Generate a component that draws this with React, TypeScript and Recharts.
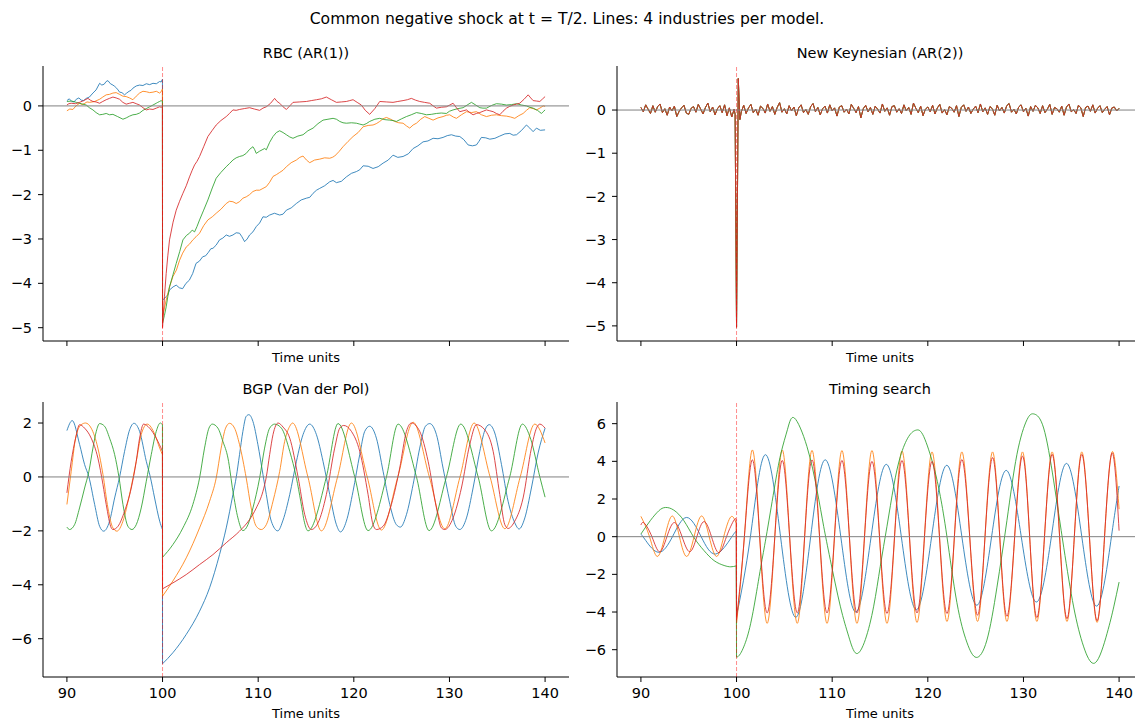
import { LineChart, Line, XAxis, YAxis, ReferenceLine } from 'recharts'

type Pair = [number, number]
type Pt = { t: number; v: number }

const X_TICKS = [90, 100, 110, 120, 130, 140]
const X_DOMAIN: [number, number] = [87.5, 142.5]
const BLUE = '#1f77b4'
const ORANGE = '#ff7f0e'
const GREEN = '#2ca02c'
const RED = '#d62728'
const FONT = '"DejaVu Sans", Verdana, sans-serif'

// ---- RBC (AR(1)) : [time, value]  (trend readings first, finer wiggles after; sorted at use)
const rbcBlue: Pair[] = [
  [90, 0.12], [90.5, 0.1], [90.98, 0.15], [91.5, 0.13], [92.02, 0.17], [92.72, 0.29], [93.42, 0.51], [93.9, 0.49],
  [94.29, 0.57], [94.81, 0.47], [95.2, 0.4], [95.51, 0.31], [96.03, 0.25], [96.5, 0.33], [96.9, 0.4], [97.6, 0.47],
  [98.3, 0.5], [99.0, 0.51], [99.69, 0.55], [99.99, 0.6],
  [100, -4.38], [100.38, -4.3], [100.73, -4.15], [101.43, -4.04], [102.1, -4.12], [102.8, -3.93], [103.5, -3.55],
  [104.2, -3.4], [104.8, -3.3], [105.27, -3.21], [105.96, -3.02], [106.66, -2.91], [107.36, -2.91], [108.05, -2.87],
  [108.58, -3.06], [109.1, -2.91], [109.8, -2.72], [110.5, -2.5], [111.2, -2.46], [112.25, -2.46], [112.95, -2.35],
  [113.99, -2.2], [115.04, -2.08], [115.74, -1.97], [116.43, -1.86], [117.48, -1.71], [118.18, -1.73], [119.22, -1.6],
  [120.27, -1.48], [120.97, -1.35], [122.01, -1.41], [123.06, -1.29], [124.1, -1.11], [125.15, -1.14], [126.2, -0.96],
  [127.24, -0.81], [128.29, -0.73], [129.33, -0.71], [130.21, -0.65], [131.08, -0.69], [131.95, -0.88], [132.82, -0.88],
  [133.34, -0.71], [134.22, -0.75], [135.26, -0.68], [136.31, -0.62], [137.01, -0.65], [138.05, -0.43], [138.75, -0.58],
  [139.1, -0.5], [140, -0.54],
  [90.25, 0.16], [90.75, 0.09], [91.25, 0.18], [91.75, 0.12], [92.35, 0.2], [93.05, 0.36], [93.65, 0.47], [94.1, 0.55],
  [94.55, 0.5], [95.0, 0.44], [95.35, 0.36], [95.75, 0.3], [96.25, 0.29], [96.7, 0.35], [97.25, 0.45], [97.95, 0.46],
  [98.65, 0.48], [99.35, 0.5], [99.85, 0.54],
  [100.55, -4.26], [101.1, -4.08], [101.75, -4.1], [102.45, -4.0], [103.15, -3.78], [103.85, -3.5], [104.5, -3.38],
  [105.05, -3.22], [105.6, -3.14], [106.3, -2.98], [107.0, -2.94], [107.7, -2.86], [108.3, -2.95], [108.85, -3.0],
  [109.45, -2.84], [110.15, -2.64], [110.85, -2.51], [111.7, -2.42], [112.6, -2.44], [113.45, -2.3], [114.5, -2.12],
  [115.4, -2.06], [116.1, -1.9], [116.95, -1.8], [117.83, -1.68], [118.7, -1.7], [119.75, -1.52], [120.62, -1.44],
  [121.5, -1.36], [122.55, -1.37], [123.6, -1.22], [124.6, -1.16], [125.7, -1.08], [126.7, -0.9], [127.75, -0.79],
  [128.8, -0.74], [129.77, -0.67], [130.65, -0.68], [131.5, -0.76], [132.4, -0.9], [133.08, -0.8], [133.8, -0.72],
  [134.75, -0.73], [135.8, -0.63], [136.66, -0.66], [137.5, -0.56], [138.4, -0.5], [139.5, -0.55],
]
const rbcOrange: Pair[] = [
  [90, -0.11], [90.63, -0.08], [91.32, 0.06], [91.8, 0.05], [92.37, 0.08], [93.42, 0.15], [94.11, 0.25], [94.81, 0.29],
  [95.51, 0.26], [96.2, 0.21], [96.9, 0.14], [97.6, 0.29], [98.3, 0.32], [99.0, 0.31], [99.69, 0.29], [99.99, 0.38],
  [100, -4.75], [100.38, -4.38], [101.08, -3.85], [101.78, -3.48], [102.48, -3.18], [103.17, -3.02], [103.87, -2.87],
  [104.74, -2.57], [105.61, -2.42], [106.66, -2.2], [107.36, -2.16], [108.05, -2.16], [108.75, -2.05], [109.45, -1.93],
  [110.15, -1.9], [110.85, -1.82], [111.55, -1.59], [112.25, -1.5], [112.95, -1.37], [113.99, -1.22], [114.69, -1.13],
  [115.39, -1.28], [116.43, -1.2], [117.48, -1.18], [118.0, -1.13], [118.87, -0.92], [119.92, -0.69], [120.97, -0.47],
  [122.01, -0.43], [122.71, -0.35], [123.41, -0.26], [124.28, -0.35], [125.15, -0.39], [125.85, -0.5], [126.55, -0.39],
  [127.42, -0.24], [128.29, -0.32], [129.33, -0.24], [130.03, -0.2], [130.73, -0.28], [131.78, -0.13], [132.82, -0.13],
  [133.87, -0.24], [134.91, -0.2], [135.96, -0.23], [136.83, -0.28], [137.7, -0.17], [138.4, -0.04], [139.1, -0.09],
  [139.8, 0.0], [140, -0.01],
  [90.3, -0.07], [90.95, 0.0], [91.6, 0.03], [92.1, 0.09], [92.9, 0.1], [93.75, 0.2], [94.45, 0.26], [95.15, 0.3],
  [95.85, 0.22], [96.55, 0.18], [97.25, 0.22], [97.95, 0.33], [98.65, 0.3], [99.35, 0.33], [99.85, 0.32],
  [100.2, -4.55], [100.7, -4.1], [101.45, -3.7], [102.1, -3.32], [102.8, -3.12], [103.5, -2.95], [104.3, -2.7],
  [105.2, -2.5], [106.1, -2.33], [107.0, -2.15], [107.7, -2.2], [108.4, -2.08], [109.1, -2.0], [109.8, -1.9],
  [110.5, -1.86], [111.2, -1.72], [111.9, -1.55], [112.6, -1.45], [113.45, -1.28], [114.35, -1.16], [115.05, -1.22],
  [115.9, -1.22], [116.95, -1.17], [117.75, -1.16], [118.45, -1.03], [119.4, -0.8], [120.45, -0.6], [121.5, -0.44],
  [122.35, -0.4], [123.05, -0.29], [123.85, -0.3], [124.7, -0.38], [125.5, -0.45], [126.2, -0.43], [127.0, -0.3],
  [127.85, -0.28], [128.8, -0.27], [129.7, -0.21], [130.4, -0.25], [131.25, -0.2], [132.3, -0.15], [133.35, -0.2],
  [134.4, -0.21], [135.45, -0.22], [136.4, -0.25], [137.25, -0.22], [138.05, -0.1], [138.75, -0.06], [139.45, -0.05],
]
const rbcGreen: Pair[] = [
  [90, 0.1], [90.98, 0.08], [92.02, 0.02], [92.72, -0.09], [93.42, -0.2], [94.11, -0.17], [94.81, -0.19], [95.86, -0.3],
  [96.55, -0.23], [97.25, -0.19], [97.95, -0.1], [98.65, -0.02], [99.34, 0.06], [99.69, 0.1], [99.99, 0.1],
  [100, -4.9], [100.38, -4.53], [100.73, -4.08], [101.43, -3.55], [102.13, -3.02], [102.82, -2.87], [103.35, -2.84],
  [103.87, -2.57], [104.74, -2.12], [105.61, -1.63], [106.66, -1.37], [107.36, -1.22], [108.05, -1.14], [108.75, -1.07],
  [109.45, -0.92], [109.8, -1.07], [110.5, -0.98], [110.85, -0.99], [111.55, -0.69], [112.25, -0.56], [112.95, -0.65],
  [113.64, -0.73], [114.69, -0.65], [115.74, -0.5], [116.78, -0.32], [117.83, -0.28], [118.53, -0.35], [119.22, -0.39],
  [120.27, -0.39], [120.97, -0.43], [121.66, -0.35], [122.71, -0.28], [123.76, -0.32], [124.45, -0.35], [125.5, -0.24],
  [126.55, -0.15], [127.59, -0.2], [128.64, -0.17], [129.68, -0.17], [130.38, -0.09], [131.43, -0.04], [132.3, 0.08],
  [133.17, -0.04], [133.87, -0.05], [134.91, 0.05], [135.96, 0.02], [137.01, 0.05], [138.05, 0.0], [138.75, -0.05],
  [139.62, -0.17], [140, -0.09],
  [90.5, 0.11], [91.5, 0.05], [92.35, -0.04], [93.05, -0.15], [93.75, -0.19], [94.45, -0.2], [95.3, -0.24], [96.2, -0.27],
  [96.9, -0.2], [97.6, -0.16], [98.3, -0.06], [99.0, 0.02], [99.5, 0.08], [99.85, 0.12],
  [100.2, -4.72], [100.55, -4.3], [101.1, -3.8], [101.8, -3.28], [102.5, -2.92], [103.1, -2.8], [103.6, -2.72],
  [104.3, -2.35], [105.2, -1.85], [106.1, -1.5], [107.0, -1.3], [107.7, -1.17], [108.4, -1.12], [109.1, -0.98],
  [109.62, -0.98], [110.15, -1.02], [110.68, -0.96], [111.2, -0.82], [111.9, -0.6], [112.6, -0.6], [113.3, -0.7],
  [114.15, -0.68], [115.2, -0.56], [116.25, -0.4], [117.3, -0.3], [118.18, -0.3], [118.87, -0.38], [119.75, -0.38],
  [120.62, -0.41], [121.3, -0.4], [122.2, -0.3], [123.25, -0.31], [124.1, -0.33], [125.0, -0.29], [126.0, -0.2],
  [127.05, -0.17], [128.1, -0.19], [129.15, -0.16], [130.0, -0.12], [130.9, -0.06], [131.85, 0.02], [132.75, 0.02],
  [133.5, -0.05], [134.4, 0.01], [135.45, 0.04], [136.5, 0.03], [137.55, 0.02], [138.4, -0.03], [139.2, -0.1],
  [139.8, -0.13],
]
const rbcRed: Pair[] = [
  [90, 0.02], [90.45, 0.06], [91.32, 0.08], [92.2, 0.17], [92.72, 0.1], [93.42, 0.06], [94.11, 0.14], [94.81, 0.2],
  [95.51, 0.15], [96.2, 0.04], [96.9, 0.08], [97.6, 0.02], [98.3, -0.09], [99.0, -0.08], [99.69, -0.02], [99.99, -0.02],
  [100, -5.0], [100.38, -3.78], [100.73, -3.02], [101.43, -2.35], [102.13, -1.97], [102.82, -1.6], [103.35, -1.33],
  [103.87, -1.14], [104.74, -0.69], [105.61, -0.43], [106.66, -0.24], [107.36, -0.09], [108.05, -0.08], [109.1, -0.04],
  [110.15, -0.1], [110.85, -0.02], [111.72, 0.17], [112.25, 0.06], [112.95, -0.08], [113.64, 0.08], [115.04, 0.1],
  [116.1, 0.14], [117.13, 0.2], [118.18, 0.08], [119.22, 0.1], [119.92, 0.14], [120.79, 0.02], [121.66, -0.19],
  [122.71, 0.1], [124.1, 0.08], [125.15, 0.12], [126.02, 0.17], [126.89, 0.1], [127.94, 0.06], [128.64, -0.05],
  [129.68, -0.02], [130.38, 0.06], [131.08, -0.13], [131.78, -0.09], [132.47, -0.2], [133.17, -0.15], [133.87, -0.09],
  [134.57, -0.13], [135.26, -0.2], [135.96, -0.05], [136.66, 0.02], [137.35, 0.06], [138.23, 0.25], [138.75, 0.12],
  [139.45, 0.1], [140, 0.21],
  [90.2, 0.05], [90.9, 0.05], [91.75, 0.12], [92.45, 0.13], [93.05, 0.09], [93.75, 0.1], [94.45, 0.17], [95.15, 0.18],
  [95.85, 0.08], [96.55, 0.06], [97.25, 0.05], [97.95, -0.04], [98.65, -0.07], [99.35, -0.05], [99.85, -0.03],
  [100.2, -4.3], [100.55, -3.38], [101.1, -2.62], [101.78, -2.15], [102.48, -1.8], [103.1, -1.45], [103.6, -1.25],
  [104.3, -0.92], [105.2, -0.55], [106.1, -0.33], [107.0, -0.17], [107.7, -0.1], [108.55, -0.06], [109.6, -0.07],
  [110.5, -0.05], [111.3, 0.06], [111.98, 0.1], [112.6, -0.02], [113.3, 0.0], [114.35, 0.09], [115.55, 0.12],
  [116.6, 0.16], [117.65, 0.14], [118.7, 0.09], [119.57, 0.12], [120.35, 0.08], [121.2, -0.1], [122.2, -0.06],
  [123.4, 0.09], [124.6, 0.1], [125.6, 0.14], [126.45, 0.13], [127.4, 0.08], [128.3, 0.0], [129.15, -0.03],
  [130.03, 0.02], [130.73, -0.04], [131.43, -0.11], [132.12, -0.15], [132.82, -0.17], [133.52, -0.12], [134.22, -0.11],
  [134.9, -0.17], [135.6, -0.12], [136.3, -0.01], [137.0, 0.04], [137.8, 0.15], [138.5, 0.18], [139.1, 0.11],
  [139.75, 0.16],
]

// ---- New Keynesian (AR(2)) : the four industries lie on top of each other
const NK_STEP = 0.25
const NK_SHOCK_T = [99.85, 100, 100.18, 100.35]
const nkPre = [
  0.06, -0.04, 0.12, 0.02, -0.08, 0.1, -0.05, 0.08, 0.14, -0.06,
  0.03, -0.12, 0.07, -0.02, 0.09, -0.15, -0.03, 0.05, 0.11, -0.07,
  -0.1, 0.04, 0.08, -0.05, 0.13, 0.02, -0.09, 0.06, 0.16, -0.04,
  0.07, -0.11, 0.03, 0.1, -0.06, 0.12, -0.13, 0.05, -0.16, 0.02,
]
const nkShock = [-0.1, -5.03, 0.73, -0.22]
const nkPost = [
  -0.04, 0.11, -0.08, 0.05, 0.13, -0.06, 0.02, -0.12, 0.09, 0.04,
  -0.07, 0.14, -0.03, 0.08, -0.1, 0.06, 0.17, -0.05, 0.03, -0.09,
  0.1, -0.02, 0.07, -0.13, 0.05, 0.12, -0.06, 0.01, -0.1, 0.08,
  0.15, -0.04, 0.06, -0.11, 0.03, 0.09, -0.07, 0.12, -0.02, 0.05,
  -0.14, 0.07, 0.1, -0.05, 0.02, -0.09, 0.13, 0.04, -0.06, 0.08,
  -0.18, 0.03, 0.11, -0.04, 0.06, -0.1, 0.09, 0.02, -0.07, 0.14,
  -0.03, 0.05, -0.12, 0.08, 0.1, -0.05, 0.03, -0.08, 0.12, -0.02,
  0.06, -0.1, 0.16, 0.04, -0.06, 0.09, -0.13, 0.02, 0.07, -0.04,
  0.11, -0.09, 0.05, 0.13, -0.07, 0.01, -0.11, 0.08, 0.04, -0.05,
  0.1, -0.15, 0.06, 0.12, -0.03, 0.07, -0.08, 0.02, 0.09, -0.06,
  0.14, -0.04, 0.05, -0.1, 0.08, 0.03, -0.12, 0.11, -0.02, 0.06,
  -0.07, 0.1, 0.15, -0.05, 0.02, -0.09, 0.07, 0.12, -0.04, 0.04,
  -0.14, 0.08, -0.03, 0.11, 0.05, -0.08, 0.1, -0.06, 0.02, 0.13,
  -0.1, 0.06, 0.03, -0.05, 0.09, -0.12, 0.07, 0.14, -0.04, 0.01,
  -0.08, 0.11, 0.05, -0.15, 0.06, 0.09, -0.03, 0.12, -0.07, 0.04,
  0.1, -0.06, 0.02, 0.08, -0.11, 0.05, 0.07, -0.02, 0.04,
]

// ---- BGP (Van der Pol)
const vdpBlue: Pair[] = [
  [90, 1.72], [90.56, 2.09], [91.33, 1.2], [91.85, 0.46], [92.3, 0.0], [92.9, -1.02], [93.42, -1.83], [93.84, -2.01],
  [94.46, -1.64], [94.99, -0.78], [95.51, 0.0], [96.03, 0.95], [96.56, 1.75], [97.01, 1.99], [97.6, 1.69], [98.3, 0.58],
  [98.72, 0.0], [99.17, -0.78], [99.7, -1.64], [99.99, -1.95],
  [100, -6.93], [101.08, -6.52], [102.48, -5.84], [103.87, -4.98], [104.92, -4.11], [105.96, -2.88], [106.66, -1.89],
  [107.36, -0.65], [107.71, 0.0], [108.05, 0.83], [108.4, 1.69], [108.75, 2.25], [109.03, 2.31], [109.45, 2.06],
  [109.97, 1.2], [110.5, 0.09], [110.85, -0.65], [111.37, -1.64], [112.05, -2.0], [112.6, -1.6], [113.3, -0.65],
  [114.0, 0.58], [114.69, 1.57], [115.39, 1.96], [116.09, 1.57], [116.78, 0.58], [117.48, -0.65], [118.18, -1.77],
  [118.6, -2.04], [119.22, -1.64], [119.92, -0.53], [120.62, 0.83], [121.14, 1.69], [121.66, 1.88], [122.36, 1.44],
  [123.06, 0.21], [123.76, -1.02], [124.45, -1.77], [124.87, -1.86], [125.5, -1.4], [126.2, -0.28], [126.89, 1.07],
  [127.49, 1.88], [127.94, 1.98], [128.64, 1.57], [129.33, 0.33], [130.03, -0.9], [130.66, -1.83], [131.08, -1.95],
  [131.78, -1.52], [132.47, -0.41], [133.17, 0.95], [133.69, 1.72], [134.15, 1.94], [134.74, 1.63], [135.44, 0.46],
  [136.13, -0.9], [136.83, -1.7], [137.28, -1.93], [137.88, -1.52], [138.57, -0.41], [139.27, 0.89], [140, 1.81],
]
const vdpOrange: Pair[] = [
  [90, -1.02], [90.45, 0.21], [90.91, 1.44], [91.5, 1.94], [91.95, 2.0], [92.54, 1.81], [93.24, 1.07], [93.77, 0.09],
  [94.29, -1.15], [94.81, -1.89], [95.23, -2.01], [95.86, -1.64], [96.55, -0.65], [97.25, 0.58], [97.77, 1.57],
  [98.4, 1.96], [99.2, 1.57], [99.7, 1.07], [99.99, 0.83],
  [100, -4.42], [101.08, -3.86], [102.48, -3.0], [103.87, -1.89], [104.92, -0.9], [105.61, -0.04], [106.13, 1.07],
  [106.59, 1.81], [107.01, 1.99], [107.53, 1.81], [108.05, 1.2], [108.75, -0.04], [109.27, -1.15], [109.8, -1.83],
  [110.32, -1.95], [110.85, -1.77], [111.55, -0.9], [112.25, 0.21], [112.77, 1.32], [113.3, 1.88], [113.6, 2.0],
  [115.2, 0.0], [116.61, -2.0], [118.3, 0.0], [119.75, 2.0], [121.4, 0.0], [122.88, -1.97], [124.6, 0.0], [126.2, 2.03],
  [127.9, 0.0], [129.51, -1.92], [131.1, 0.0], [132.58, 2.0], [134.25, 0.0], [135.79, -1.92], [137.4, 0.0],
  [138.92, 1.96], [140, 1.26],
]
const vdpGreen: Pair[] = [
  [90, -1.86], [90.28, -1.95], [90.8, -1.77], [91.32, -1.15], [91.85, -0.41], [92.3, 0.21], [92.72, 1.07], [93.07, 1.69],
  [93.42, 1.98], [93.94, 1.88], [94.46, 1.44], [94.99, 0.83], [95.44, 0.0], [95.86, -1.02], [96.38, -1.83], [96.8, -1.95],
  [97.25, -1.77], [97.77, -1.15], [98.3, -0.16], [98.82, 0.83], [99.34, 1.69], [99.76, 2.0], [99.99, 1.94],
  [100, -2.98], [101.08, -2.51], [102.13, -1.89], [103.17, -1.02], [103.87, -0.04], [104.39, 1.07], [104.85, 1.81],
  [105.2, 1.96], [105.79, 1.81], [106.31, 1.32], [106.84, 0.7], [107.36, -0.53], [107.88, -1.52], [108.4, -1.99],
  [108.93, -1.77], [109.45, -1.15], [110.15, -0.04], [110.67, 1.07], [111.2, 1.81], [111.72, 1.96], [112.43, 1.81],
  [113.3, 0.95], [114.0, -0.04], [114.45, -0.9], [114.85, -1.7], [115.21, -2.0], [117.13, 0.0], [118.35, 1.98],
  [120.1, 0.0], [121.49, -1.99], [123.41, 0.0], [124.63, 1.96], [126.55, 0.0], [127.87, -1.99], [129.68, 0.0],
  [131.18, 1.96], [133.0, 0.0], [134.39, -2.0], [136.3, 0.0], [137.63, 1.96], [138.5, 1.4], [139.45, 0.0], [140, -0.75],
]
const vdpRed: Pair[] = [
  [90, -0.59], [90.45, 0.58], [90.91, 1.44], [91.33, 1.94], [91.85, 1.81], [92.54, 1.44], [93.24, 0.7], [93.77, -0.28],
  [94.11, -1.02], [94.64, -1.89], [94.81, -1.95], [95.34, -1.83], [96.03, -1.27], [96.73, -0.41], [97.25, 0.58],
  [97.6, 1.44], [98.02, 1.96], [98.65, 1.81], [99.34, 1.44], [99.99, 0.95],
  [100, -4.15], [101.08, -3.93], [102.48, -3.62], [103.87, -3.25], [105.27, -2.88], [106.66, -2.44], [108.05, -2.01],
  [109.1, -1.58], [109.8, -1.15], [110.5, -0.53], [110.85, 0.0], [111.2, 0.83], [111.55, 1.57], [112.08, 2.0],
  [112.6, 1.85], [113.3, 1.44], [114.17, 0.0], [114.87, -1.4], [115.56, -1.95], [116.26, -1.7], [117.13, -0.65],
  [118.0, 1.07], [118.53, 1.81], [118.94, 1.91], [119.75, 1.69], [120.62, 0.95], [121.49, -0.65], [122.01, -1.77],
  [122.36, -1.95], [123.06, -1.83], [123.93, -1.02], [124.8, 0.33], [125.5, 1.69], [126.02, 2.0], [126.89, 1.69],
  [127.77, 0.58], [128.64, -1.15], [129.16, -1.89], [129.51, -1.95], [130.38, -1.52], [131.25, -0.41], [132.12, 1.2],
  [132.82, 1.94], [133.69, 1.75], [134.57, 0.95], [135.26, -0.65], [135.79, -1.77], [136.13, -1.91], [136.83, -1.64],
  [137.7, -0.78], [138.57, 1.07], [139.1, 1.81], [139.45, 1.96], [140, 1.81],
]

// ---- Timing search
const tsBlue: Pair[] = [
  [90, 0.14], [90.5, -0.2], [91.86, -0.83], [93.3, 0.0], [94.77, 1.02], [96.3, 0.0], [97.82, -0.92], [99.45, -0.05],
  [99.97, 0.3],
  [100, -4.22], [101.45, 0.0], [102.99, 4.35], [104.6, 0.0], [106.2, -4.28], [107.75, 0.0], [109.28, 4.08],
  [110.9, 0.0], [112.47, -4.0], [114.07, 0.0], [115.66, 3.84], [117.23, 0.0], [118.8, -3.88], [120.4, 0.0],
  [121.99, 3.79], [123.56, 0.0], [125.13, -3.64], [126.67, 0.0], [128.2, 3.52], [129.77, 0.0], [131.34, -3.47],
  [132.92, 0.0], [134.49, 3.89], [136.1, 0.0], [137.7, -3.68], [139.2, 0.0], [140, 2.69],
]
const tsOrange: Pair[] = [
  [90, 1.08], [90.9, 0.0], [91.7, -1.05], [92.5, 0.0], [93.28, 1.1], [94.03, 0.0], [94.78, -1.05], [95.56, 0.0],
  [96.35, 1.1], [97.14, 0.0], [97.92, -1.05], [98.66, 0.0], [99.4, 1.05], [99.97, 0.7],
  [100, -4.6], [100.82, 0.0], [101.64, 4.6], [102.42, 0.0], [103.2, -4.6], [104.0, 0.0], [104.78, 4.6], [105.55, 0.0],
  [106.35, -4.6], [107.12, 0.0], [107.89, 4.58], [108.68, 0.0], [109.46, -4.6], [110.24, 0.0], [111.02, 4.57],
  [111.8, 0.0], [112.59, -4.6], [113.38, 0.0], [114.16, 4.57], [114.95, 0.0], [115.73, -4.6], [116.52, 0.0],
  [117.3, 4.55], [118.08, 0.0], [118.87, -4.55], [119.65, 0.0], [120.44, 4.5], [121.22, 0.0], [122.0, -4.5],
  [122.78, 0.0], [123.56, 4.5], [124.38, 0.0], [125.2, -4.5], [125.98, 0.0], [126.77, 4.5], [127.52, 0.0],
  [128.27, -4.5], [129.08, 0.0], [129.9, 4.5], [130.65, 0.0], [131.4, -4.5], [132.2, 0.0], [133.0, 4.5], [133.78, 0.0],
  [134.55, -4.5], [135.32, 0.0], [136.1, 4.5], [136.9, 0.0], [137.7, -4.55], [138.48, 0.0], [139.27, 4.5], [140, 1.46],
]
const tsGreen: Pair[] = [
  [90, 0.14], [90.98, 0.85], [91.86, 1.37], [92.56, 1.55], [93.44, 1.41], [94.49, 0.85], [95.54, -0.04], [96.6, -0.74],
  [97.65, -1.27], [98.7, -1.53], [99.4, -1.6], [99.97, -1.55],
  [100, -6.4], [100.42, -6.2], [101.12, -5.32], [101.82, -3.73], [102.53, -1.62], [103.1, 0.0], [103.93, 2.5],
  [104.63, 4.4], [105.33, 5.7], [106.05, 6.3], [107.36, 4.79], [108.41, 2.49], [109.11, 0.55], [109.8, -1.22],
  [110.85, -3.69], [111.72, -5.28], [112.52, -6.2], [113.47, -5.46], [114.34, -3.69], [115.03, -1.57], [115.73, 0.55],
  [116.43, 2.67], [117.13, 4.26], [118.0, 5.32], [118.8, 5.66], [119.57, 5.32], [120.61, 3.73], [121.31, 2.14],
  [122.0, 0.0], [123.04, -3.5], [124.08, -5.6], [125.06, -6.41], [126.18, -5.49], [127.23, -2.68], [128.27, 0.85],
  [129.32, 4.37], [130.37, 6.21], [131.13, 6.51], [132.11, 5.77], [133.16, 2.96], [134.21, -0.56], [135.25, -3.73],
  [136.3, -5.85], [137.52, -6.69], [138.74, -5.14], [139.44, -3.73], [140, -2.41],
]
const tsRed: Pair[] = [
  [90, 0.62], [90.35, 0.72], [91.15, 0.0], [91.95, -0.8], [92.72, 0.0], [93.5, 0.75], [94.3, 0.0], [95.1, -0.8],
  [95.85, 0.0], [96.6, 0.8], [97.38, 0.0], [98.15, -0.85], [98.95, 0.0], [99.76, 0.9], [99.97, 0.82],
  [100, -4.4], [100.82, 0.0], [101.64, 4.08], [102.42, 0.0], [103.2, -4.05], [104.0, 0.0], [104.78, 4.05],
  [105.55, 0.0], [106.35, -4.05], [107.12, 0.0], [107.89, 4.08], [108.68, 0.0], [109.46, -4.05], [110.24, 0.0],
  [111.02, 4.05], [111.8, 0.0], [112.59, -4.05], [113.38, 0.0], [114.16, 4.0], [114.95, 0.0], [115.73, -4.08],
  [116.52, 0.0], [117.3, 4.05], [118.08, 0.0], [118.87, -4.05], [119.65, 0.0], [120.44, 4.0], [121.22, 0.0],
  [122.0, -4.08], [122.78, 0.0], [123.56, 4.1], [124.38, 0.0], [125.2, -4.17], [125.98, 0.0], [126.77, 4.2],
  [127.52, 0.0], [128.27, -4.23], [129.08, 0.0], [129.9, 4.28], [130.65, 0.0], [131.4, -4.3], [132.2, 0.0],
  [133.0, 4.37], [133.78, 0.0], [134.55, -4.35], [135.32, 0.0], [136.1, 4.37], [136.9, 0.0], [137.7, -4.47],
  [138.48, 0.0], [139.27, 4.45], [140, 0.32],
]

type Curve = 'linear' | 'monotone' | 'natural'
type Series = { color: string; pairs: Pair[] }

function nkPairs(pre: number[], shock: number[], post: number[]): Pair[] {
  return [
    ...pre.map((v, i) => [90 + i * NK_STEP, v] as Pair),
    ...NK_SHOCK_T.map((t, i) => [t, shock[i]] as Pair),
    ...post.map((v, i) => [100.5 + i * NK_STEP, v] as Pair),
  ]
}

const toPts = (pairs: Pair[]): Pt[] => pairs.map(([t, v]) => ({ t, v }))

// split at the shock so smooth curves do not ring around the jump
function segments(pairs: Pair[], curve: Curve): { data: Pt[]; type: Curve }[] {
  const sorted = [...pairs].sort((a, b) => a[0] - b[0])
  if (curve === 'linear') return [{ data: toPts(sorted), type: 'linear' }]
  const pre = sorted.filter((p) => p[0] < 100)
  const post = sorted.filter((p) => p[0] >= 100)
  return [
    { data: toPts(pre), type: curve },
    { data: toPts([pre[pre.length - 1], post[0]]), type: 'linear' },
    { data: toPts(post), type: curve },
  ]
}

const minus = (v: number) => String(v).replace('-', '\u2212')

const PLOT_W = 526
const PLOT_H = 275
const Y_AXIS_W = 50
const MT = 4
const MR = 4
const X_AXIS_H = 34

interface PanelProps {
  left: number
  top: number
  yDomain: [number, number]
  yTicks: number[]
  series: Series[]
  curve: Curve
  xLabels: boolean
}

function Panel({ left, top, yDomain, yTicks, series, curve, xLabels }: PanelProps) {
  const tickStyle = { fontSize: 14.5, fill: '#000', fontFamily: FONT }
  return (
    <div style={{ position: 'absolute', left: left - Y_AXIS_W, top: top - MT }}>
      <LineChart
        width={Y_AXIS_W + PLOT_W + MR}
        height={MT + PLOT_H + X_AXIS_H}
        margin={{ top: MT, right: MR, bottom: 0, left: 0 }}
      >
        <XAxis
          type="number"
          dataKey="t"
          domain={X_DOMAIN}
          allowDataOverflow
          ticks={X_TICKS}
          height={X_AXIS_H}
          tick={tickStyle}
          tickFormatter={xLabels ? (v: number) => String(v) : () => ''}
          tickSize={5}
          tickMargin={6}
          axisLine={{ stroke: '#000', strokeWidth: 1 }}
          tickLine={{ stroke: '#000', strokeWidth: 1 }}
        />
        <YAxis
          type="number"
          dataKey="v"
          domain={yDomain}
          allowDataOverflow
          ticks={yTicks}
          width={Y_AXIS_W}
          tick={tickStyle}
          tickFormatter={minus}
          tickSize={5}
          tickMargin={6}
          axisLine={{ stroke: '#000', strokeWidth: 1 }}
          tickLine={{ stroke: '#000', strokeWidth: 1 }}
        />
        {series.flatMap((s, si) =>
          segments(s.pairs, curve).map((seg, gi) => (
            <Line
              key={`${si}-${gi}`}
              data={seg.data}
              dataKey="v"
              type={seg.type}
              stroke={s.color}
              strokeWidth={1}
              strokeOpacity={0.85}
              dot={false}
              activeDot={false}
              isAnimationActive={false}
            />
          ))
        )}
        <ReferenceLine y={0} stroke="#808080" strokeWidth={1} />
        <ReferenceLine x={100} stroke="#ff0000" strokeOpacity={0.45} strokeWidth={1} strokeDasharray="4 2" />
      </LineChart>
    </div>
  )
}

function Text({ x, y, size, children }: { x: number; y: number; size: number; children: React.ReactNode }) {
  return (
    <div
      style={{
        position: 'absolute',
        left: x,
        top: y,
        transform: 'translate(-50%, -50%)',
        fontFamily: FONT,
        fontSize: size,
        lineHeight: 1,
        whiteSpace: 'nowrap',
        color: '#000',
      }}
    >
      {children}
    </div>
  )
}

export default function App() {
  const LEFT_X = 43
  const RIGHT_X = 617
  const TOP_Y = 66
  const BOTTOM_Y = 402
  const cL = LEFT_X + PLOT_W / 2
  const cR = RIGHT_X + PLOT_W / 2
  const nk = nkPairs(nkPre, nkShock, nkPost)

  return (
    <div style={{ position: 'relative', width: 1135, height: 720, overflow: 'hidden', background: '#fff' }}>
      <style>{'body{margin:0}'}</style>
      <Text x={567} y={20} size={15.6}>Common negative shock at t = T/2. Lines: 4 industries per model.</Text>

      <Text x={cL} y={53} size={14.5}>RBC (AR(1))</Text>
      <Panel
        left={LEFT_X}
        top={TOP_Y}
        yDomain={[-5.3, 0.9]}
        yTicks={[0, -1, -2, -3, -4, -5]}
        curve="linear"
        xLabels={false}
        series={[
          { color: BLUE, pairs: rbcBlue },
          { color: ORANGE, pairs: rbcOrange },
          { color: GREEN, pairs: rbcGreen },
          { color: RED, pairs: rbcRed },
        ]}
      />
      <Text x={cL} y={357} size={13}>Time units</Text>

      <Text x={cR} y={53} size={14.5}>New Keynesian (AR(2))</Text>
      <Panel
        left={RIGHT_X}
        top={TOP_Y}
        yDomain={[-5.35, 1.02]}
        yTicks={[1, 0, -1, -2, -3, -4, -5]}
        curve="linear"
        xLabels={false}
        series={[
          { color: BLUE, pairs: nk },
          { color: ORANGE, pairs: nk },
          { color: GREEN, pairs: nk },
          { color: RED, pairs: nk },
        ]}
      />
      <Text x={cR} y={357} size={13}>Time units</Text>

      <Text x={cL} y={389} size={14.5}>BGP (Van der Pol)</Text>
      <Panel
        left={LEFT_X}
        top={BOTTOM_Y}
        yDomain={[-7.42, 2.78]}
        yTicks={[2, 0, -2, -4, -6]}
        curve="monotone"
        xLabels
        series={[
          { color: BLUE, pairs: vdpBlue },
          { color: ORANGE, pairs: vdpOrange },
          { color: GREEN, pairs: vdpGreen },
          { color: RED, pairs: vdpRed },
        ]}
      />
      <Text x={cL} y={713} size={13}>Time units</Text>

      <Text x={cR} y={389} size={14.5}>Timing search</Text>
      <Panel
        left={RIGHT_X}
        top={BOTTOM_Y}
        yDomain={[-7.45, 7.15]}
        yTicks={[6, 4, 2, 0, -2, -4, -6]}
        curve="natural"
        xLabels
        series={[
          { color: BLUE, pairs: tsBlue },
          { color: ORANGE, pairs: tsOrange },
          { color: GREEN, pairs: tsGreen },
          { color: RED, pairs: tsRed },
        ]}
      />
      <Text x={cR} y={713} size={13}>Time units</Text>
    </div>
  )
}
